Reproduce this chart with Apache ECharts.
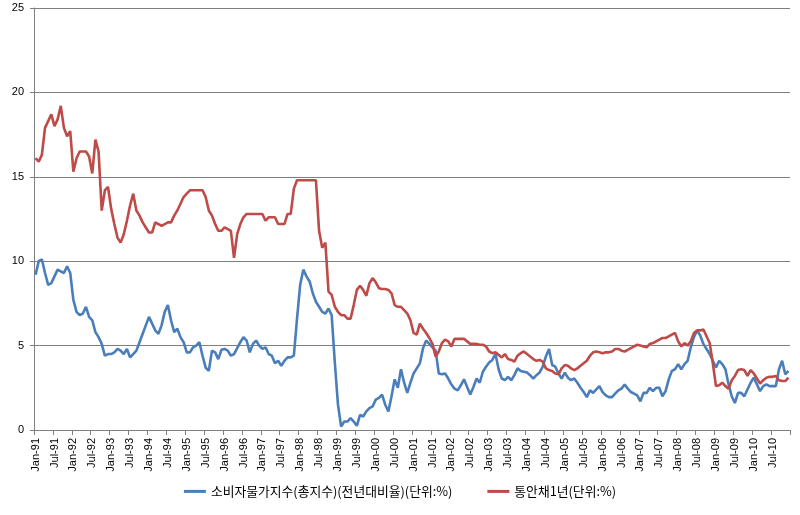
<!DOCTYPE html>
<html>
<head>
<meta charset="utf-8">
<script src="https://cdn.jsdelivr.net/npm/echarts@6/dist/echarts.min.js"></script>
<style>
html,body{margin:0;padding:0;background:#fff;}
#chart{width:800px;height:515px;}
</style>
</head>
<body>
<div id="chart"></div>
<script>
// ---- data ----
const monthNames = ['Jan','Feb','Mar','Apr','May','Jun','Jul','Aug','Sep','Oct','Nov','Dec'];
const yearLabels = ['91','92','93','94','95','96','97','98','99','00','01','02','03','04','05','06','07','08','09','10'];
const yTicks = [0, 5, 10, 15, 20, 25];
const seriesNames = ['소비자물가지수(총지수)(전년대비율)(단위:%)', '통안채1년(단위:%)'];

const cpi = [
  9.2, 10.0, 10.1, 9.3, 8.6, 8.7, 9.1, 9.5, 9.4, 9.3, 9.7, 9.3,
  7.7, 7.0, 6.8, 6.9, 7.3, 6.7, 6.5, 5.8, 5.5, 5.1, 4.4, 4.5,
  4.5, 4.6, 4.8, 4.7, 4.5, 4.8, 4.3, 4.5, 4.7, 5.2, 5.7, 6.2,
  6.7, 6.3, 5.9, 5.7, 6.2, 7.0, 7.4, 6.5, 5.8, 6.0, 5.5, 5.2,
  4.6, 4.6, 4.9, 5.0, 5.2, 4.4, 3.7, 3.5, 4.7, 4.6, 4.2, 4.75,
  4.8, 4.7, 4.4, 4.5, 4.85, 5.2, 5.5, 5.3, 4.6, 5.1, 5.3, 5.0,
  4.8, 4.9, 4.5, 4.4, 3.95, 4.1, 3.8, 4.1, 4.3, 4.3, 4.4, 6.6,
  8.6, 9.5, 9.1, 8.8, 8.1, 7.6, 7.3, 7.0, 6.9, 7.2, 6.8, 4.0,
  1.5, 0.2, 0.5, 0.5, 0.7, 0.5, 0.25, 0.9, 0.8, 1.1, 1.3, 1.4,
  1.8, 1.9, 2.1, 1.5, 1.1, 2.0, 3.0, 2.5, 3.6, 2.8, 2.2, 2.8,
  3.35, 3.65, 3.95, 4.85, 5.3, 5.1, 4.9, 4.7, 3.35, 3.3, 3.35, 3.05,
  2.7, 2.45, 2.35, 2.65, 3.0, 2.55, 2.1, 2.55, 3.05, 2.8, 3.45, 3.75,
  4.0, 4.15, 4.5, 3.6, 3.05, 2.95, 3.15, 2.95, 3.25, 3.65, 3.5, 3.45,
  3.4, 3.25, 3.05, 3.25, 3.4, 3.75, 4.35, 4.8, 3.85, 3.75, 3.35, 3.05,
  3.4, 3.1, 2.95, 3.05, 2.8, 2.5, 2.25, 1.95, 2.35, 2.2, 2.4, 2.6,
  2.25, 2.05, 1.95, 1.95, 2.15, 2.35, 2.45, 2.7, 2.45, 2.25, 2.15, 2.05,
  1.7, 2.2, 2.2, 2.5, 2.3, 2.5, 2.5, 2.0, 2.3, 3.0, 3.5, 3.6,
  3.9, 3.6, 3.9, 4.1, 4.9, 5.5, 5.9, 5.6, 5.1, 4.8, 4.5, 4.1,
  3.7, 4.1, 3.9, 3.6, 2.7, 2.0, 1.6, 2.2, 2.2, 2.0, 2.4, 2.8,
  3.1, 2.7, 2.3, 2.6, 2.7, 2.6, 2.6, 2.6, 3.6, 4.1, 3.3, 3.5
];

const msb1y = [
  16.1, 15.9, 16.3, 17.9, 18.3, 18.7, 18.0, 18.4, 19.2, 17.9, 17.4, 17.7,
  15.3, 16.1, 16.5, 16.5, 16.5, 16.2, 15.2, 17.2, 16.5, 13.0, 14.2, 14.4,
  13.1, 12.2, 11.4, 11.1, 11.6, 12.4, 13.3, 14.0, 13.0, 12.7, 12.3, 12.0,
  11.7, 11.7, 12.3, 12.2, 12.1, 12.2, 12.3, 12.3, 12.7, 13.0, 13.4, 13.8,
  14.0, 14.2, 14.2, 14.2, 14.2, 14.2, 13.8, 13.0, 12.7, 12.2, 11.8, 11.8,
  12.0, 11.9, 11.8, 10.2, 11.6, 12.2, 12.6, 12.8, 12.8, 12.8, 12.8, 12.8,
  12.8, 12.4, 12.6, 12.6, 12.6, 12.2, 12.2, 12.2, 12.8, 12.8, 14.3, 14.8,
  14.8, 14.8, 14.8, 14.8, 14.8, 14.8, 11.8, 10.8, 11.1, 8.2, 8.0, 7.3,
  7.0, 6.8, 6.8, 6.6, 6.6, 7.4, 8.3, 8.55, 8.3, 7.95, 8.7, 9.0,
  8.75, 8.4, 8.35, 8.35, 8.3, 8.1, 7.4, 7.3, 7.3, 7.1, 6.9, 6.5,
  5.75, 5.65, 6.3, 6.0, 5.75, 5.45, 5.1, 4.35, 4.65, 5.15, 5.35, 5.25,
  4.95, 5.4, 5.4, 5.4, 5.4, 5.25, 5.1, 5.1, 5.1, 5.05, 5.05, 4.95,
  4.65, 4.55, 4.6, 4.45, 4.3, 4.5, 4.2, 4.15, 4.05, 4.4, 4.55, 4.65,
  4.5, 4.35, 4.2, 4.1, 4.15, 4.05, 3.65, 3.55, 3.5, 3.35, 3.3, 3.65,
  3.85, 3.8, 3.65, 3.55, 3.65, 3.8, 3.95, 4.1, 4.4, 4.6, 4.65, 4.6,
  4.55, 4.6, 4.6, 4.65, 4.8, 4.8, 4.7, 4.65, 4.75, 4.85, 4.95, 5.05,
  5.0, 4.95, 4.9, 5.1, 5.15, 5.25, 5.35, 5.45, 5.45, 5.55, 5.65, 5.75,
  5.25, 4.95, 5.15, 5.0, 5.25, 5.75, 5.9, 5.9, 5.95, 5.55, 5.15, 3.95,
  2.6, 2.65, 2.8, 2.6, 2.45, 2.95, 3.2, 3.55, 3.6, 3.55, 3.2, 3.55,
  3.35, 3.05, 2.75, 2.95, 3.1, 3.15, 3.15, 3.2, 2.95, 2.9, 2.9, 3.1
];

const categories = [];
yearLabels.forEach(y => monthNames.forEach(m => categories.push(m + '-' + y)));

// ---- chart ----
const chart = echarts.init(document.getElementById('chart'), null, {renderer: 'canvas'});
const axisColor = '#7f7f7f';
chart.setOption({
  animation: false,
  backgroundColor: '#ffffff',
  color: ['#4A7EBB', '#BE4B48'],
  grid: {left: 34, right: 10, top: 8, bottom: 85, containLabel: false},
  legend: {
    data: seriesNames,
    top: 480,
    left: 'center',
    icon: 'rect',
    itemWidth: 22,
    itemHeight: 3,
    itemGap: 35,
    textStyle: {fontFamily: '"Noto Sans CJK KR", sans-serif', fontSize: 12.8, color: '#000'}
  },
  xAxis: {
    type: 'category',
    data: categories,
    boundaryGap: true,
    axisLine: {lineStyle: {color: axisColor, width: 1}},
    axisTick: {show: true, interval: 5, length: 5, lineStyle: {color: axisColor}},
    axisLabel: {
      interval: 5, rotate: 90, margin: 8,
      fontFamily: '"Liberation Sans", Arial, sans-serif', fontSize: 11, color: '#000'
    },
    splitLine: {show: false}
  },
  yAxis: {
    type: 'value',
    min: yTicks[0], max: yTicks[yTicks.length - 1], interval: 5,
    axisLine: {show: true, lineStyle: {color: axisColor, width: 1}},
    axisTick: {show: true, length: 4, lineStyle: {color: axisColor}},
    axisLabel: {margin: 10, fontFamily: '"Liberation Sans", Arial, sans-serif', fontSize: 11, color: '#000'},
    splitLine: {show: true, lineStyle: {color: axisColor, width: 1}}
  },
  series: [
    {name: seriesNames[0], type: 'line', data: cpi, symbol: 'none', lineStyle: {width: 2.6}},
    {name: seriesNames[1], type: 'line', data: msb1y, symbol: 'none', lineStyle: {width: 2.6}}
  ]
});
</script>
</body>
</html>
